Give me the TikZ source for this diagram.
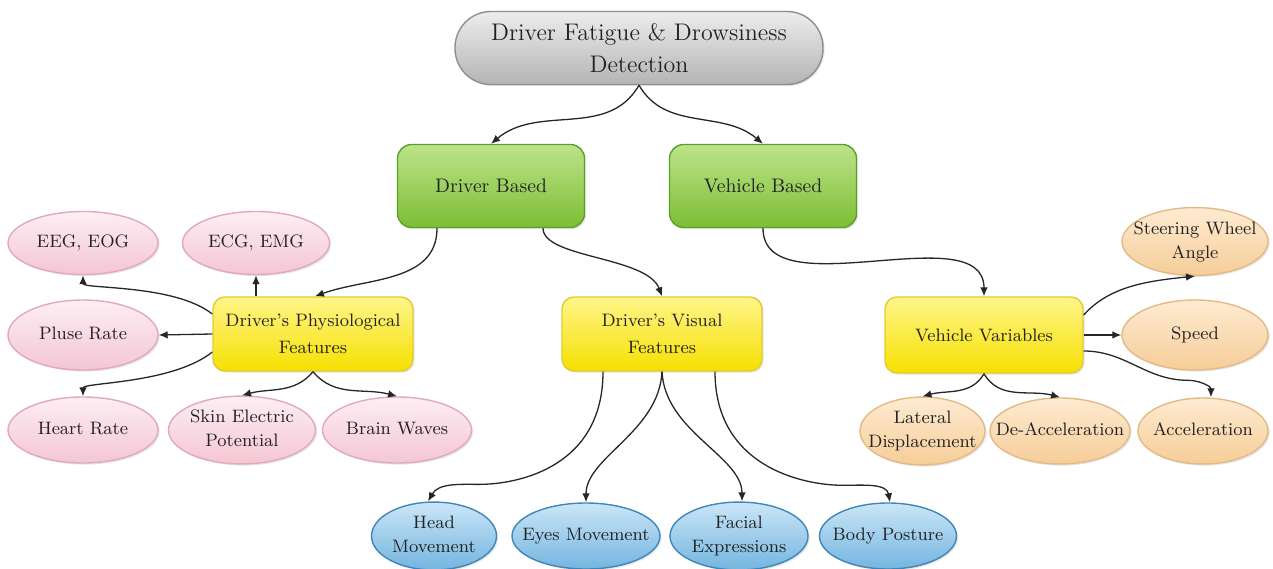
\documentclass[tikz,border=0pt]{standalone}
\usetikzlibrary{arrows.meta,shapes.geometric,shadows,calc}
\definecolor{grayT}{HTML}{EDEDED}\definecolor{grayB}{HTML}{B4B4B4}\definecolor{grayD}{HTML}{8E8E8E}
\definecolor{grnT}{HTML}{BDE38A}\definecolor{grnB}{HTML}{7CBE34}\definecolor{grnD}{HTML}{58A22A}
\definecolor{ylwT}{HTML}{FFF58A}\definecolor{ylwB}{HTML}{F6E000}\definecolor{ylwD}{HTML}{E2CB2E}
\definecolor{pnkT}{HTML}{FDEEF3}\definecolor{pnkB}{HTML}{F4C6D4}\definecolor{pnkD}{HTML}{E2A9BB}
\definecolor{bluT}{HTML}{CBE6F7}\definecolor{bluB}{HTML}{74B5E0}\definecolor{bluD}{HTML}{3F86BA}
\definecolor{orgT}{HTML}{FEEBD2}\definecolor{orgB}{HTML}{F6CD98}\definecolor{orgD}{HTML}{E3BA85}
\definecolor{txt}{HTML}{222222}
\newcommand{\ctxt}[1]{\makebox[0pt]{\begin{tabular}{@{}c@{}}#1\end{tabular}}}
\tikzset{
  base/.style={text=txt, inner sep=2pt, line width=0.7pt,
    drop shadow={opacity=0.2, shadow xshift=0.8pt, shadow yshift=-0.8pt}},
  topbox/.style={base, rounded corners=18pt, draw=grayD, top color=grayT, bottom color=grayB,
    minimum width=184pt, minimum height=36.5pt, align=center,
    font=\fontsize{12}{16}\selectfont},
  grnbox/.style={base, rounded corners=7pt, draw=grnD, top color=grnT, bottom color=grnB,
    minimum width=93.5pt, minimum height=41.5pt, font=\fontsize{9.8}{12}\selectfont},
  ylwbox/.style={base, rounded corners=6pt, draw=ylwD, top color=ylwT, bottom color=ylwB,
    minimum width=100pt, minimum height=37pt, align=center, font=\fontsize{9}{13.5}\selectfont},
  ell/.style={base, ellipse, inner sep=0pt, minimum height=33pt, font=\fontsize{9}{12}\selectfont},
  pnk/.style={ell, draw=pnkD, top color=pnkT, bottom color=pnkB},
  blu/.style={ell, draw=bluD, top color=bluT, bottom color=bluB},
  org/.style={ell, draw=orgD, top color=orgT, bottom color=orgB},
  arr/.style={-{Latex[length=4.5pt,width=3.8pt]}, line width=0.65pt, black!85}
}
\begin{document}
\begin{tikzpicture}[x=0.5pt,y=0.5pt]
\useasboundingbox (0,0) rectangle (1273,-568);
% main nodes
\node[topbox] (top) at (639,-48) {Driver Fatigue \& Drowsiness\\Detection};
\node[grnbox] (db) at (491,-186) {Driver Based};
\node[grnbox] (vb) at (763,-186) {Vehicle Based};
\node[ylwbox] (phys) at (313,-334) {Driver's Physiological\\Features};
\node[ylwbox] (vis) at (662,-334) {Driver's Visual\\Features};
\node[ylwbox, minimum width=99pt, minimum height=38pt] (vv) at (984,-335) {Vehicle Variables};
% pink
\node[pnk, minimum width=75pt, minimum height=31.5pt] (eeg) at (83,-243) {\ctxt{EEG, EOG}};
\node[pnk, minimum width=73.5pt, minimum height=31.5pt] (ecg) at (256,-243) {\ctxt{ECG, EMG}};
\node[pnk, minimum width=75pt, minimum height=35pt] (pluse) at (83,-335) {\ctxt{Pluse Rate}};
\node[pnk, minimum width=75pt] (heart) at (83,-430) {\ctxt{Heart Rate}};
\node[pnk, minimum width=73.5pt] (skin) at (242,-430) {\ctxt{Skin Electric\\Potential}};
\node[pnk, minimum width=74.5pt] (brain) at (397,-430) {\ctxt{Brain Waves}};
% blue
\node[blu, minimum width=62.5pt] (head) at (434,-536) {\ctxt{Head\\Movement}};
\node[blu, minimum width=74pt] (eyes) at (586,-536) {\ctxt{Eyes Movement}};
\node[blu, minimum width=69pt] (facial) at (739,-536) {\ctxt{Facial\\Expressions}};
\node[blu, minimum width=68.5pt] (body) at (888,-536) {\ctxt{Body Posture}};
% orange
\node[org, minimum width=73pt, minimum height=33.5pt] (steer) at (1195,-241.5) {\ctxt{Steering Wheel\\Angle}};
\node[org, minimum width=73pt, minimum height=35pt] (speed) at (1195,-335) {\ctxt{Speed}};
\node[org, minimum width=62.5pt] (lat) at (922.5,-431) {\ctxt{Lateral\\Displacement}};
\node[org, minimum width=70pt] (deacc) at (1060,-431) {\ctxt{De-Acceleration}};
\node[org, minimum width=65pt] (acc) at (1203,-431) {\ctxt{Acceleration}};
% connectors: top level
\draw[arr] (top.south) to[out=-120,in=40] (db.north);
\draw[arr] (top.south) to[out=-60,in=140] (vb.north);
\draw[arr] ([xshift=-27pt]db.south) to[out=-90,in=20] ([xshift=1pt]phys.north);
\draw[arr] ([xshift=26pt]db.south) .. controls +(0,-30) and +(-15,40) .. (vis.north);
\draw[arr] (vb.south) to[out=-90,in=90,looseness=0.9] (vv.north);
% physiological
\draw[arr] ([yshift=10pt]phys.west) .. controls +(-38,30) and +(0,-14) .. (eeg.south);
\draw[arr] (ecg.south |- phys.north) -- (ecg.south);
\draw[arr] (phys.west) -- (pluse.east);
\draw[arr] ([yshift=-9pt]phys.west) .. controls +(-40,-32) and +(0,14) .. (heart.north);
\draw[arr] (phys.south) to[out=-130,in=15] (skin.north);
\draw[arr] (phys.south) to[out=-50,in=165] (brain.north);
% visual
\draw[arr] ([xshift=-29.5pt]vis.south) .. controls +(0,-95) and +(40,0) .. ($(head.north)+(45,17)$)
  to[out=180,in=60] ([xshift=-3pt]head.north);
\draw[arr] (vis.south) .. controls +(-3,-60) and +(0,45) .. (eyes.north);
\draw[arr] (vis.south) .. controls +(3,-60) and +(0,45) .. ([xshift=1.5pt]facial.north);
\draw[arr] ([xshift=26.5pt]vis.south) .. controls +(0,-95) and +(-40,0) .. ($(body.north)+(-45,17)$)
  to[out=0,in=100] ([xshift=1pt]body.north);
% vehicle variables
\draw[arr] ([yshift=10pt]vv.east) .. controls +(25,28) and +(-50,-5) .. (steer.south);
\draw[arr] (vv.east) -- (speed.west);
\draw[arr] ([yshift=-8pt]vv.east) to[out=0,in=180] ($(acc.north)+(-15,17)$)
  to[out=0,in=90] ([xshift=4pt]acc.north);
\draw[arr] (vv.south) to[out=-120,in=15] (lat.north);
\draw[arr] (vv.south) to[out=-60,in=165] (deacc.north);
\end{tikzpicture}
\end{document}
